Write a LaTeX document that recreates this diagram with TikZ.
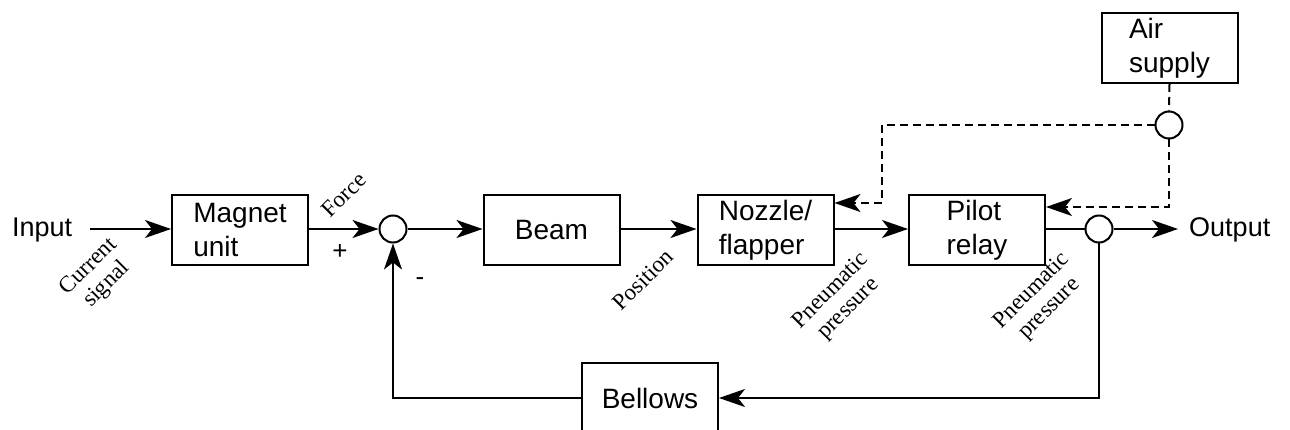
\documentclass[tikz,border=0pt]{standalone}
\usepackage{fontspec}
\setmainfont{Liberation Sans}
\newfontfamily\lblfont{Liberation Serif}
\usetikzlibrary{arrows.meta}
\begin{document}
\begin{tikzpicture}[x=1pt,y=-1pt,
  blk/.style={draw, line width=2pt, minimum width=136pt, minimum height=70pt, inner sep=0pt, align=left, font=\fontsize{28}{34}\selectfont},
  sumc/.style={draw, circle, line width=2pt, minimum size=27pt, inner sep=0pt},
  conn/.style={line width=2pt},
  tip/.style={-{Stealth[length=26pt,width=18pt,inset=7pt]}},
  arr/.style={conn, tip},
  dsh/.style={line width=2pt, dash pattern=on 8pt off 5pt},
  lbl/.style={font=\lblfont\fontsize{23}{25}\selectfont, rotate=45, align=center, inner sep=0pt},
  txt/.style={font=\fontsize{27}{32}\selectfont, inner sep=0pt},
  sgn/.style={font=\fontsize{26}{28}\selectfont, inner sep=0pt}]
\useasboundingbox (0,0) rectangle (1290,430);
\clip (0,0) rectangle (1290,430);

\node[blk] (mag) at (240,230) {Magnet\\unit};
\node[blk] (beam) at (551.5,230) {Beam};
\node[blk] (noz) at (765.5,230) {Nozzle/\\flapper};
\node[blk] (pil) at (977,230) {Pilot\\relay};
\node[blk] (air) at (1169.5,48) {Air\\supply};
\node[blk] (bel) at (650,398) {Bellows};
\node[sumc] (s1) at (393,229) {};
\node[sumc] (s2) at (1099,229) {};
\node[sumc] (s3) at (1169,125) {};
\node[txt, anchor=base west] (in) at (12,237) {Input};
\node[txt, anchor=base west] (out) at (1189,237) {Output};
\coordinate (inS) at (90,229);
\coordinate (outE) at (1178,229);
\coordinate (dk) at (882,203);
\coordinate (pk) at (1169,207);

\draw[arr] (inS) -- (mag.west |- inS);
\draw[arr] (mag.east |- s1) -- (s1.west);
\draw[arr] (s1.east) -- (beam.west |- s1);
\draw[arr] (beam.east |- s1) -- (noz.west |- s1);
\draw[arr] (noz.east |- s1) -- (pil.west |- s1);
\draw[conn] (pil.east |- s2) -- (s2.west);
\draw[arr] (s2.east) -- (outE);
\draw[arr] (s2.south) |- (bel.east);
\draw[arr] (bel.west) -| (s1.south);

\draw[dsh] (air.south) -- (s3.north);
\draw[dsh, tip] (s3.west) -| (dk) -- (noz.east |- dk);
\draw[dsh, tip] (s3.south) -- (pk) -- (pil.east |- pk);

\node[sgn] (plus) at (340,252) {+};
\node[sgn] (minus) at (420,282) {-};

\node[lbl] (lf) at (344,195) {Force};
\node[lbl] (lc) at (98,276) {Current\\signal};
\node[lbl] (lp) at (643,280) {Position};
\node[lbl] (lpn1) at (840,300) {Pneumatic\\pressure};
\node[lbl] (lpn2) at (1041,300) {Pneumatic\\pressure};
\end{tikzpicture}
\end{document}
